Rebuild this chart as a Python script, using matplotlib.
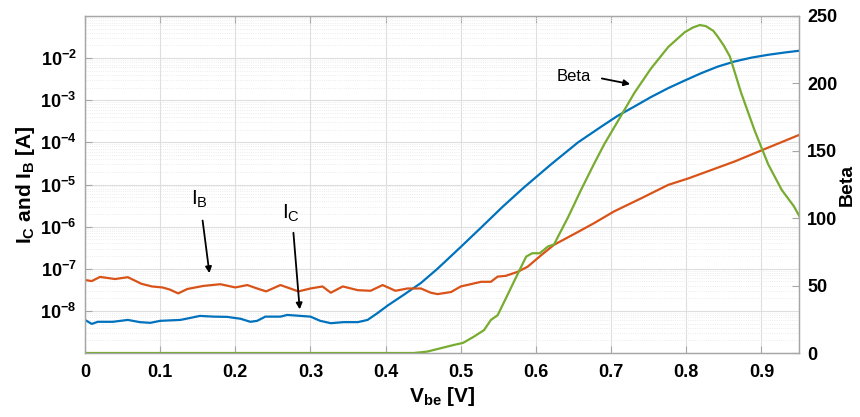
import numpy as np
import matplotlib
matplotlib.use("Agg")
import matplotlib.pyplot as plt
from matplotlib.ticker import LogLocator, FixedLocator, FixedFormatter, NullFormatter

plt.rcParams['font.family'] = ['Liberation Sans', 'DejaVu Sans']
plt.rcParams['mathtext.default'] = 'regular'

# collector current (blue)
vbe_ic = [0.000, 0.009, 0.017, 0.037, 0.057, 0.073, 0.087, 0.100, 0.127, 0.140,
          0.153, 0.171, 0.189, 0.207, 0.220, 0.229, 0.240, 0.260, 0.269, 0.287,
          0.300, 0.313, 0.327, 0.344, 0.363, 0.376, 0.389, 0.403, 0.424, 0.447,
          0.469, 0.500, 0.527, 0.556, 0.584, 0.620, 0.656, 0.687, 0.709, 0.731,
          0.753, 0.776, 0.798, 0.820, 0.842, 0.864, 0.887, 0.909, 0.931, 0.952]
ic = [6.1e-9, 4.9e-9, 5.5e-9, 5.5e-9, 6.1e-9, 5.4e-9, 5.2e-9, 5.8e-9, 6.1e-9, 6.8e-9,
      7.6e-9, 7.3e-9, 7.2e-9, 6.5e-9, 5.5e-9, 5.8e-9, 7.3e-9, 7.3e-9, 8.0e-9, 7.6e-9,
      7.3e-9, 5.8e-9, 5.1e-9, 5.4e-9, 5.4e-9, 6.1e-9, 8.8e-9, 1.35e-8, 2.4e-8, 4.6e-8,
      1.0e-7, 3.3e-7, 9.5e-7, 3.0e-6, 8.5e-6, 3.0e-5, 1.0e-4, 2.37e-4, 4.3e-4, 7.1e-4,
      1.19e-3, 1.94e-3, 2.94e-3, 4.4e-3, 6.3e-3, 8.3e-3, 1.03e-2, 1.2e-2, 1.36e-2, 1.51e-2]

# base current (orange)
vbe_ib = [0.000, 0.009, 0.020, 0.040, 0.057, 0.075, 0.089, 0.103, 0.113, 0.124,
          0.136, 0.157, 0.180, 0.200, 0.216, 0.229, 0.241, 0.260, 0.284, 0.300,
          0.316, 0.327, 0.343, 0.363, 0.380, 0.396, 0.413, 0.429, 0.447, 0.460,
          0.469, 0.487, 0.500, 0.527, 0.540, 0.549, 0.560, 0.576, 0.589, 0.607,
          0.624, 0.651, 0.677, 0.704, 0.740, 0.776, 0.803, 0.864, 0.904, 0.952]
ib = [5.4e-8, 5.1e-8, 6.4e-8, 5.7e-8, 6.3e-8, 4.4e-8, 3.8e-8, 3.6e-8, 3.2e-8, 2.6e-8,
      3.3e-8, 3.9e-8, 4.3e-8, 3.6e-8, 4.1e-8, 3.4e-8, 2.9e-8, 4.1e-8, 2.9e-8, 3.4e-8,
      3.8e-8, 2.7e-8, 3.8e-8, 3.1e-8, 3.0e-8, 4.1e-8, 3.0e-8, 3.4e-8, 3.4e-8, 2.7e-8,
      2.5e-8, 2.8e-8, 3.8e-8, 4.9e-8, 4.9e-8, 6.5e-8, 6.8e-8, 8.5e-8, 1.12e-7, 2.1e-7,
      3.7e-7, 6.7e-7, 1.2e-6, 2.3e-6, 4.7e-6, 9.8e-6, 1.4e-5, 3.5e-5, 6.9e-5, 1.55e-4]

# current gain (green, right axis)
vbe_beta = [0.000, 0.400, 0.437, 0.455, 0.473, 0.491, 0.503, 0.517, 0.531, 0.540,
            0.549, 0.563, 0.576, 0.587, 0.595, 0.605, 0.616, 0.624, 0.643, 0.660,
            0.677, 0.691, 0.709, 0.731, 0.753, 0.776, 0.798, 0.809, 0.818, 0.826,
            0.836, 0.842, 0.850, 0.858, 0.873, 0.891, 0.909, 0.927, 0.943, 0.952]
beta = [0, 0, 0, 1, 3.5, 6, 7.5, 12, 17, 24.5,
        28, 44, 59, 71.5, 74, 74, 79, 80.5, 101, 121,
        140, 155, 172, 193, 211, 227, 238, 241.5, 243.3, 242.5,
        239, 234.6, 228, 220, 193, 165, 140, 121, 109, 100]

blue = '#0072BD'
orange = '#D95319'
green = '#77AC30'
spine_col = '#a6a6a6'

fig = plt.figure(figsize=(8.6, 4.17), dpi=100)
ax = fig.add_axes([85 / 860, 1 - 353 / 417, 714 / 860, 337 / 417])
ax2 = ax.twinx()

ax.plot(vbe_ic, ic, color=blue, lw=1.6)
ax.plot(vbe_ib, ib, color=orange, lw=1.6)
ax2.plot(vbe_beta, beta, color=green, lw=1.6)

ax.set_yscale('log')
ax.set_xlim(0, 0.95)
ax.set_ylim(1e-9, 1e-1)
ax2.set_ylim(0, 250)

ax.set_xticks(np.arange(0, 0.95, 0.1))
ax.set_xticklabels(['0', '0.1', '0.2', '0.3', '0.4', '0.5', '0.6', '0.7', '0.8', '0.9'])
exps = [-8, -7, -6, -5, -4, -3, -2]
ax.yaxis.set_major_locator(FixedLocator([10.0 ** e for e in exps]))
ax.yaxis.set_major_formatter(FixedFormatter([r'10$^{\mathregular{%d}}$' % e for e in exps]))
ax.yaxis.set_minor_locator(LogLocator(base=10, subs=np.arange(2, 10), numticks=20))
ax.yaxis.set_minor_formatter(NullFormatter())
ax2.set_yticks([0, 50, 100, 150, 200, 250])

ax.grid(which='major', color='#dedede', lw=0.8)
ax.grid(which='minor', axis='y', color='#e6e6e6', lw=0.6, linestyle=':')
ax.set_axisbelow(True)

for a in (ax, ax2):
    for s in a.spines.values():
        s.set_color(spine_col)
        s.set_linewidth(0.9)
ax.tick_params(axis='x', which='major', direction='in', length=5, color=spine_col,
               labelsize=13, top=True, pad=8)
ax.tick_params(axis='y', which='major', direction='in', length=5, color=spine_col,
               labelsize=13, pad=6)
ax.tick_params(axis='y', which='minor', length=0)
ax2.tick_params(axis='y', direction='in', length=5, color=spine_col, labelsize=13, pad=6)
for lab in ax.get_xticklabels() + ax.get_yticklabels() + ax2.get_yticklabels():
    lab.set_fontweight('bold')

ax.set_xlabel(r'V$_{\mathregular{be}}$ [V]', fontsize=15, fontweight='bold', labelpad=3)
ax.set_ylabel(r'I$_{\mathregular{C}}$ and I$_{\mathregular{B}}$ [A]', fontsize=15,
              fontweight='bold', labelpad=2)
ax2.set_ylabel('Beta', fontsize=14, fontweight='bold')
ax2.yaxis.set_label_coords(1.055, 0.5)

arrow = dict(arrowstyle='-|>', color='black', lw=1.3, mutation_scale=9)
ax.annotate('', xy=(0.166, 10 ** -7.17), xytext=(0.156, 10 ** -5.79), arrowprops=arrow)
ax.text(0.152, 10 ** -5.35, r'I$_{\mathregular{B}}$', fontsize=15, ha='center', va='center')
ax.annotate('', xy=(0.286, 10 ** -8.03), xytext=(0.277, 10 ** -6.08), arrowprops=arrow)
ax.text(0.274, 10 ** -5.68, r'I$_{\mathregular{C}}$', fontsize=15, ha='center', va='center')
ax.annotate('', xy=(0.729, 10 ** -2.63), xytext=(0.684, 10 ** -2.47), arrowprops=arrow)
ax.text(0.673, 10 ** -2.44, 'Beta', fontsize=12, ha='right', va='center')

fig.savefig('out.png', dpi=100)
